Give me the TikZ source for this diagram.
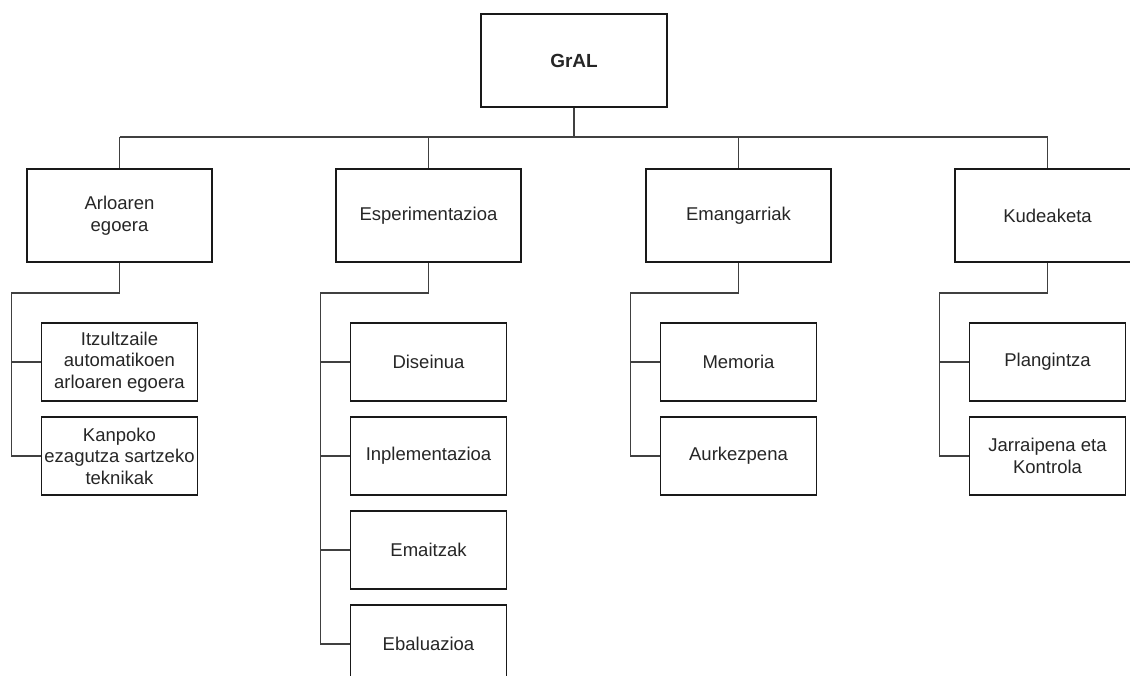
\documentclass[tikz,border=0pt]{standalone}
\usepackage{fontspec}
\setmainfont{Liberation Sans}
\usetikzlibrary{calc}
\begin{document}
\begin{tikzpicture}[x=1pt,y=-1pt,
  box/.style={draw=black!90,line width=1.6pt,fill=white,align=center,
    text=black!85,font=\fontsize{18.5}{21.5}\selectfont,inner sep=2pt},
  rootbox/.style={box,minimum width=186pt,minimum height=93pt,font=\fontsize{19}{22}\selectfont\bfseries},
  topicbox/.style={box,minimum width=185pt,minimum height=93pt},
  leafbox/.style={box,minimum width=156pt,minimum height=78pt},
  conn/.style={draw=black!75,line width=1.6pt}]
\useasboundingbox (0,0) rectangle (1130,675);
\clip (0,0) rectangle (1130,675);
\fill[white] (0,0) rectangle (1130,675);

% root and main branches
\node[rootbox] (root) at (574,60.5) {GrAL};
\node[topicbox] (arl) at (119.5,215.5) {Arloaren\\egoera};
\node[topicbox] (esp) at (428.5,215.5) {Esperimentazioa};
\node[topicbox] (ema) at (738.5,215.5) {Emangarriak};
\node[topicbox] (kud) at (1047.5,215.5) {Kudeaketa};

% leaves
\node[leafbox] (arl1) at (119.5,362) {Itzultzaile\\automatikoen\\arloaren egoera};
\node[leafbox] (arl2) at (119.5,456) {Kanpoko\\ezagutza sartzeko\\teknikak};
\node[leafbox] (esp1) at (428.5,362) {Diseinua};
\node[leafbox] (esp2) at (428.5,456) {Inplementazioa};
\node[leafbox] (esp3) at (428.5,550) {Emaitzak};
\node[leafbox] (esp4) at (428.5,644) {Ebaluazioa};
\node[leafbox] (ema1) at (738.5,362) {Memoria};
\node[leafbox] (ema2) at (738.5,456) {Aurkezpena};
\node[leafbox] (kud1) at (1047.5,362) {Plangintza};
\node[leafbox] (kud2) at (1047.5,456) {Jarraipena eta\\Kontrola};

% bus under the root
\coordinate (bus) at (0,137);
\draw[conn] (root.south) -- (root.south |- bus);
\draw[conn] (arl.north |- bus) -- (kud.north |- bus);
\foreach \t in {arl,esp,ema,kud}
  \draw[conn] (\t.north) -- (\t.north |- bus);

% branch lines to the leaves
\foreach \t in {arl,esp,ema,kud}
  \coordinate (\t k) at ($(\t.south)+(-108,30)$);
\draw[conn] (arl.south) |- (arlk) |- (arl2.west);
\draw[conn] (arlk) |- (arl1.west);
\draw[conn] (esp.south) |- (espk) |- (esp4.west);
\draw[conn] (espk) |- (esp1.west);
\draw[conn] (espk) |- (esp2.west);
\draw[conn] (espk) |- (esp3.west);
\draw[conn] (ema.south) |- (emak) |- (ema2.west);
\draw[conn] (emak) |- (ema1.west);
\draw[conn] (kud.south) |- (kudk) |- (kud2.west);
\draw[conn] (kudk) |- (kud1.west);
\end{tikzpicture}
\end{document}
